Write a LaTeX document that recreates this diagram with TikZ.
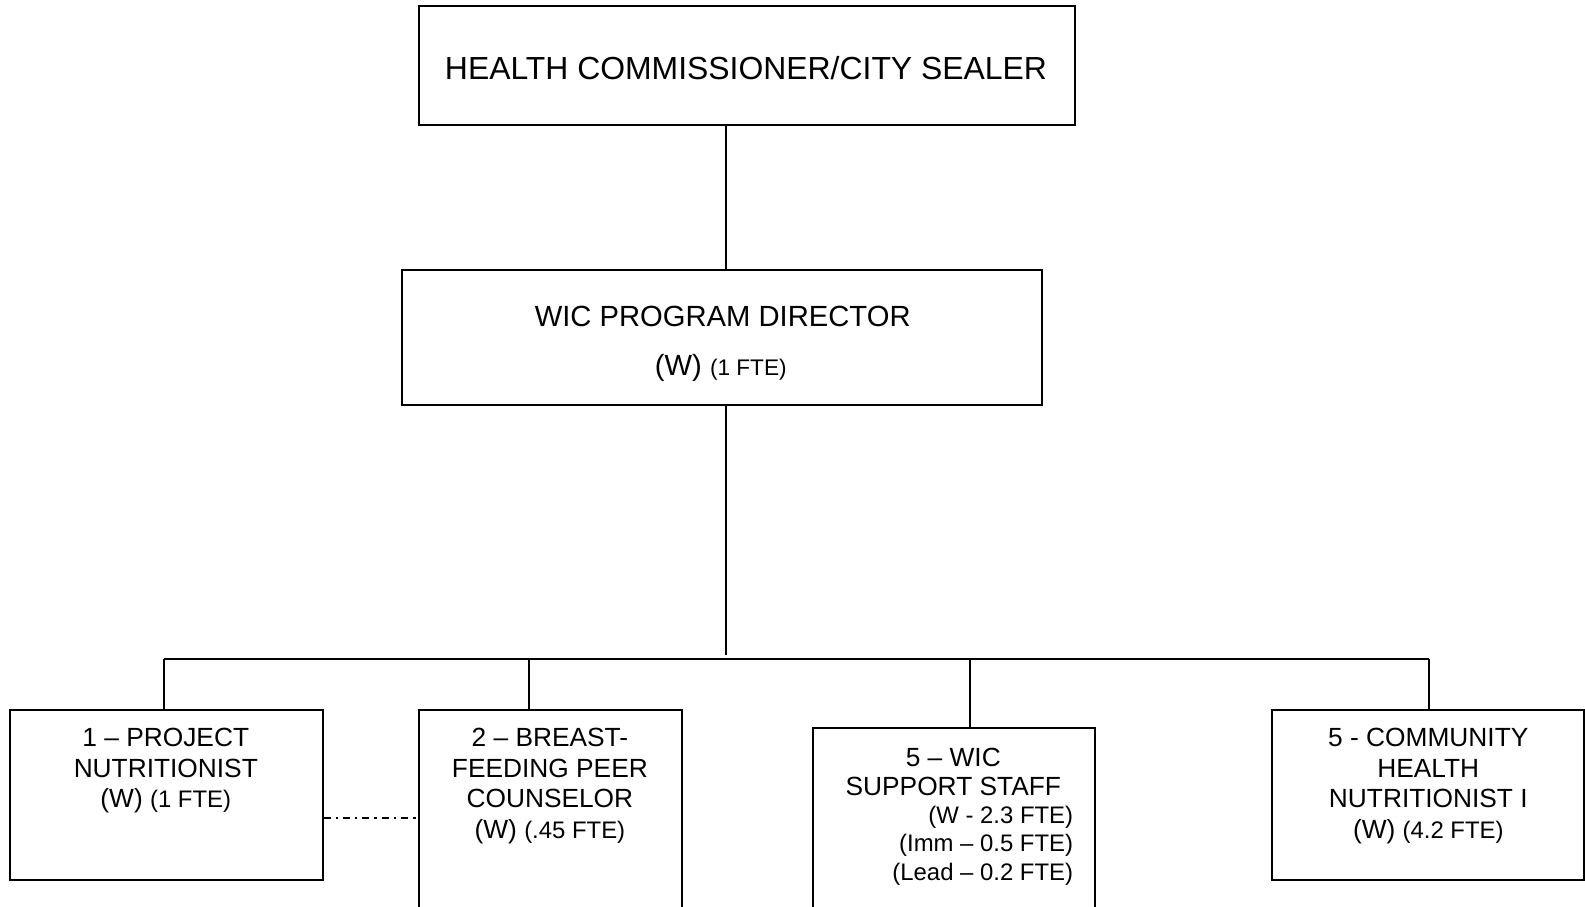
\documentclass[tikz,border=0pt]{standalone}
\usepackage{fontspec}
\setmainfont{Liberation Sans}
\newcommand\smtxt[1]{{\fontsize{11.95}{14}\selectfont #1}}
\newcommand\dsmtxt[1]{{\fontsize{11.3}{14}\selectfont #1}}
\begin{document}
\begin{tikzpicture}[x=0.5pt,y=-0.5pt,
  box/.style={draw, line width=1pt, inner sep=0pt, rectangle},
  conn/.style={line width=1pt},
  dotline/.style={line width=0.85pt, dash pattern=on 3.5pt off 2.5pt on 1.2pt off 2.5pt},
  lbl/.style={inner sep=0pt, anchor=base},
  rlbl/.style={inner sep=0pt, anchor=base east},
  toptxt/.style={font=\fontsize{15.95}{19}\selectfont},
  dirtxt/.style={font=\fontsize{14.6}{18}\selectfont},
  bigtxt/.style={font=\fontsize{13.15}{15}\selectfont},
  smltxt/.style={font=\fontsize{11.95}{14}\selectfont}]
\useasboundingbox (0,0) rectangle (1585,906);

% boxes
\node[box, minimum width=328pt, minimum height=59.65pt] (top) at (746.5,65.75) {};
\node[box, minimum width=319.95pt, minimum height=67.25pt] (dir) at (722.25,337.25) {};
\node[box, minimum width=156.2pt, minimum height=84.95pt] (b1) at (166.3,794.75) {};
\node[box, minimum width=131.9pt, minimum height=115.1pt] (b2) at (550.4,824.9) {};
\node[box, minimum width=141pt, minimum height=106pt] (b3) at (953.7,834) {};
\node[box, minimum width=155.95pt, minimum height=84.95pt] (b4) at (1427.55,794.75) {};

% texts
\node[lbl, toptxt] (t0) at (746,79) {HEALTH COMMISSIONER/CITY SEALER};
\node[lbl, dirtxt] (t1) at (722.7,326) {WIC PROGRAM DIRECTOR};
\node[lbl, dirtxt] (t2) at (720.8,375) {(W) \dsmtxt{(1 FTE)}};

\node[lbl, bigtxt] (b1a) at (165.8,746.7) {1 – PROJECT};
\node[lbl, bigtxt] (b1b) at (165.8,777.3) {NUTRITIONIST};
\node[lbl, bigtxt] (b1c) at (165.8,807.5) {(W) \smtxt{(1 FTE)}};

\node[lbl, bigtxt] (b2a) at (549.9,746.7) {2 – BREAST-};
\node[lbl, bigtxt] (b2b) at (549.9,777.3) {FEEDING PEER};
\node[lbl, bigtxt] (b2c) at (549.9,807.5) {COUNSELOR};
\node[lbl, bigtxt] (b2d) at (549.9,838.3) {(W) \smtxt{(.45 FTE)}};

\node[lbl, bigtxt] (b3a) at (953.3,766) {5 – WIC};
\node[lbl, bigtxt] (b3b) at (953.3,795) {SUPPORT STAFF};
\node[rlbl, smltxt] (b3c) at (1073.5,823.3) {(W - 2.3 FTE)};
\node[rlbl, smltxt] (b3d) at (1073.5,851.7) {(Imm – 0.5 FTE)};
\node[rlbl, smltxt] (b3e) at (1073.5,880) {(Lead – 0.2 FTE)};

\node[lbl, bigtxt] (b4a) at (1428.3,746.7) {5 - COMMUNITY};
\node[lbl, bigtxt] (b4b) at (1428.3,777.3) {HEALTH};
\node[lbl, bigtxt] (b4c) at (1428.3,807.5) {NUTRITIONIST I};
\node[lbl, bigtxt] (b4d) at (1428.3,838.3) {(W) \smtxt{(4.2 FTE)}};

% connectors
\coordinate (spine) at (725.8,0);
\coordinate (busjoin) at (725.8,655);
\coordinate (d1) at (163.8,659.3);
\coordinate (d2) at (528.7,659.3);
\coordinate (d3) at (970.4,659.3);
\coordinate (d4) at (1429.3,659.3);
\coordinate (dd) at (0,817.7);

\draw[conn] (top.south -| spine) -- (dir.north -| spine);
\draw[conn] (dir.south -| spine) -- (busjoin);
\draw[conn] (d1) -- (d4);
\draw[conn] (d1) -- (b1.north -| d1);
\draw[conn] (d2) -- (b2.north -| d2);
\draw[conn] (d3) -- (b3.north -| d3);
\draw[conn] (d4) -- (b4.north -| d4);
\draw[dotline] (b1.east |- dd) -- (b2.west |- dd);
\end{tikzpicture}
\end{document}
